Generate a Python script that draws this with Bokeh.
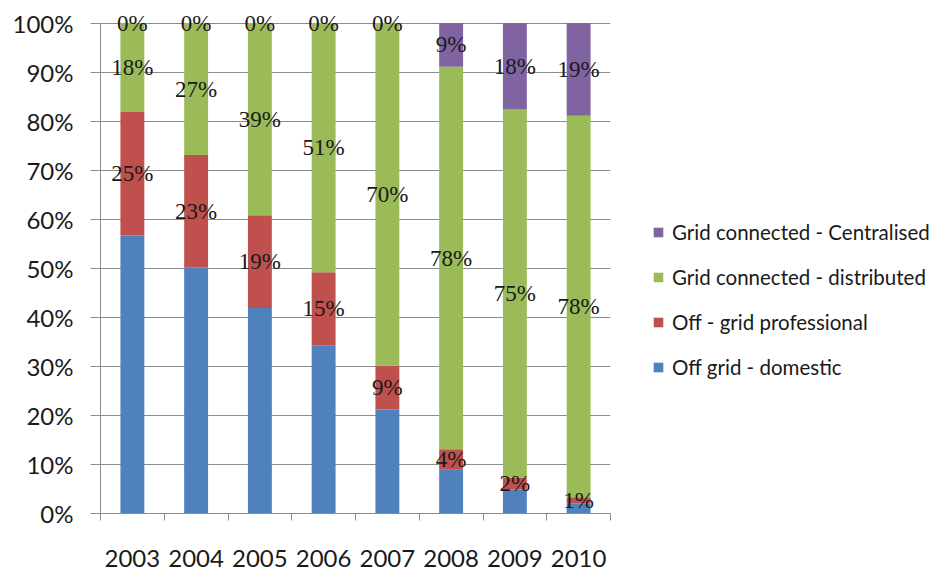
from bokeh.plotting import figure
from bokeh.models import (ColumnDataSource, Range1d, FixedTicker, PrintfTickFormatter,
                          Legend, LegendItem, LabelSet)
from bokeh.embed import file_html
from bokeh.resources import INLINE

years = ["2003", "2004", "2005", "2006", "2007", "2008", "2009", "2010"]
off_grid_domestic = [56.7, 50.2, 41.9, 34.3, 21.2, 9.0, 4.9, 2.1]
off_grid_professional = [25.2, 22.9, 18.9, 14.9, 9.0, 4.1, 2.4, 1.2]
grid_distributed = [18.1, 26.9, 39.2, 50.8, 69.8, 78.0, 75.1, 77.8]
grid_centralised = [0.0, 0.0, 0.0, 0.0, 0.0, 8.9, 17.6, 18.9]
y_ticks = [0, 10, 20, 30, 40, 50, 60, 70, 80, 90, 100]

series = [
    ("Off grid - domestic", off_grid_domestic, "#4F81BD", False),
    ("Off - grid professional", off_grid_professional, "#C0504D", True),
    ("Grid connected - distributed", grid_distributed, "#9BBB59", True),
    ("Grid connected - Centralised", grid_centralised, "#8064A2", True),
]

FONT = "Lato"
xs = [i + 0.5 for i in range(len(years))]

p = figure(width=940, height=572, output_backend="svg", toolbar_location=None,
           x_range=Range1d(0, len(years)), y_range=Range1d(0, 104),
           frame_width=510, frame_height=510,
           min_border_left=100, min_border_top=3, min_border_bottom=59,
           min_border_right=330)
p.outline_line_color = None
p.background_fill_color = "white"
p.border_fill_color = "white"

items = []
bottom = [0.0] * len(years)
label_x, label_y, label_t = [], [], []
for name, vals, color, labelled in series:
    top = [b + v for b, v in zip(bottom, vals)]
    src = ColumnDataSource(dict(x=xs, bottom=bottom, top=top))
    r = p.vbar(x="x", bottom="bottom", top="top", width=0.375, source=src,
               fill_color=color, line_color=None)
    items.append(LegendItem(label=name, renderers=[r]))
    if labelled:
        for x, b, v in zip(xs, bottom, vals):
            label_x.append(x)
            label_y.append(b + v / 2)
            label_t.append(f"{round(v)}%")
    bottom = top

lsrc = ColumnDataSource(dict(x=label_x, y=label_y, t=label_t))
labels = LabelSet(x="x", y="y", text="t", source=lsrc, text_align="center",
                  text_baseline="middle", text_font=FONT, text_font_size="23px",
                  text_color="#1a1a1a")
p.add_layout(labels)

# y axis
p.yaxis.ticker = FixedTicker(ticks=y_ticks)
p.yaxis.bounds = (0, 100)
p.yaxis.formatter = PrintfTickFormatter(format="%d%%")
p.yaxis.major_tick_in = 0
p.yaxis.major_tick_out = 10
p.yaxis.minor_tick_line_color = None
p.yaxis.axis_line_color = "#8c8c8c"
p.yaxis.major_tick_line_color = "#8c8c8c"
p.yaxis.major_label_text_font = FONT
p.yaxis.major_label_text_font_size = "24px"
p.yaxis.major_label_text_color = "#1a1a1a"
p.yaxis.major_label_standoff = 17

# x axis: labels at centers, ticks at boundaries
p.xaxis.ticker = FixedTicker(ticks=xs, minor_ticks=list(range(len(years) + 1)))
p.xaxis.major_label_overrides = {x: y for x, y in zip(xs, years)}
p.xaxis.major_tick_line_color = None
p.xaxis.minor_tick_line_color = "#8c8c8c"
p.xaxis.minor_tick_in = 0
p.xaxis.minor_tick_out = 7
p.xaxis.axis_line_color = "#8c8c8c"
p.xaxis.major_label_text_font = FONT
p.xaxis.major_label_text_font_size = "24px"
p.xaxis.major_label_text_color = "#1a1a1a"
p.xaxis.major_label_standoff = 29

p.xgrid.grid_line_color = None
p.ygrid.grid_line_color = "#8c8c8c"
p.ygrid.ticker = FixedTicker(ticks=y_ticks)

legend = Legend(items=list(reversed(items)), location=(42, 134),
                orientation="vertical")
legend.label_text_font = FONT
legend.label_text_font_size = "20.5px"
legend.label_text_color = "#1a1a1a"
legend.glyph_width = 12
legend.glyph_height = 12
legend.label_height = 24
legend.spacing = 21
legend.label_standoff = 8
legend.padding = 0
legend.margin = 0
legend.border_line_color = None
legend.background_fill_alpha = 0
p.add_layout(legend, "right")

open("out.html", "w").write(file_html(p, INLINE))
